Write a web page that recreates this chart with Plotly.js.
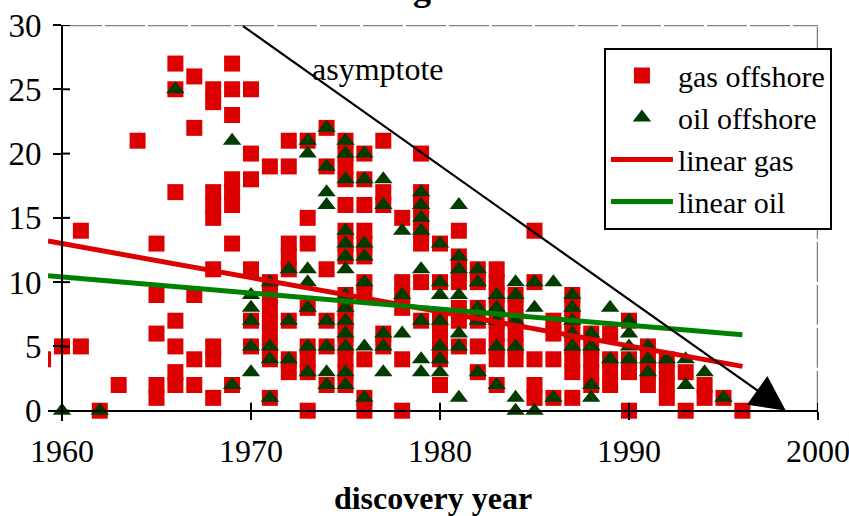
<!DOCTYPE html>
<html><head><meta charset="utf-8">
<script src="https://cdn.plot.ly/plotly-3.0.1.min.js"></script>
<style>html,body{margin:0;padding:0;background:#fff}#chart{width:849px;height:516px}</style>
</head><body><div id="chart"></div>
<script>
// gas offshore fields: discovery year and size class
const gasYear = [
  1959,
  1960,
  1961,1961,
  1962,
  1963,
  1964,
  1965,1965,1965,1965,1965,
  1966,1966,1966,1966,1966,1966,1966,
  1967,1967,1967,1967,1967,
  1968,1968,1968,1968,1968,1968,1968,1968,1968,
  1969,1969,1969,1969,1969,1969,1969,1969,
  1970,1970,1970,1970,1970,1970,
  1971,1971,1971,1971,1971,1971,1971,1971,1971,
  1972,1972,1972,1972,1972,1972,1972,1972,
  1973,1973,1973,1973,1973,1973,1973,1973,
  1974,1974,1974,1974,1974,1974,
  1975,1975,1975,1975,1975,1975,1975,1975,1975,1975,1975,1975,1975,1975,1975,1975,
  1976,1976,1976,1976,1976,1976,1976,1976,1976,1976,1976,
  1977,1977,1977,1977,1977,
  1978,1978,1978,1978,1978,1978,
  1979,1979,1979,1979,1979,1979,1979,1979,
  1980,1980,1980,1980,1980,1980,1980,
  1981,1981,1981,1981,1981,1981,1981,
  1982,1982,1982,1982,1982,1982,
  1983,1983,1983,1983,1983,1983,1983,1983,1983,
  1984,1984,1984,1984,1984,1984,
  1985,1985,1985,1985,1985,
  1986,1986,1986,1986,
  1987,1987,1987,1987,1987,1987,1987,1987,
  1988,1988,1988,1988,1988,
  1989,1989,1989,1989,
  1990,1990,1990,1990,
  1991,1991,1991,1991,
  1992,1992,1992,1992,
  1993,1993,
  1994,1994,
  1995,
  1996
];
const gasSize = [
  4,
  5,
  14,5,
  0,
  2,
  21,
  13,9,6,2,1,
  27,25,17,7,5,3,2,
  26,22,9,4,2,
  25,24,17,16,15,11,5,4,1,
  27,25,23,18,17,16,13,2,
  25,20,18,11,7,5,
  19,10,9,8,7,6,5,4,1,
  21,19,13,12,11,7,4,3,
  21,15,13,8,5,4,3,0,
  22,19,11,7,5,2,
  21,20,19,18,16,14,13,12,9,8,7,6,5,4,3,2,
  20,18,16,14,13,12,10,9,4,1,0,
  21,17,16,6,5,
  15,10,9,8,4,0,
  20,17,16,15,14,13,10,7,
  13,10,7,6,5,4,2,
  14,12,11,10,8,7,5,
  11,10,8,7,5,3,
  11,10,9,8,7,6,5,4,2,
  9,8,7,6,5,4,
  14,10,4,2,1,
  7,6,4,1,
  9,8,7,6,5,4,3,1,
  6,5,4,3,2,
  6,4,3,2,
  7,4,3,0,
  5,4,3,2,
  4,3,2,1,
  3,0,
  2,1,
  1,
  0
];
// oil offshore fields
const oilYear = [
  1960,
  1962,
  1966,
  1969,1969,
  1970,1970,1970,1970,1970,
  1971,1971,1971,1971,
  1972,1972,1972,
  1973,1973,1973,1973,1973,1973,1973,
  1974,1974,1974,1974,1974,1974,1974,1974,
  1975,1975,1975,1975,1975,1975,1975,1975,1975,1975,1975,1975,1975,1975,
  1976,1976,1976,1976,1976,1976,1976,
  1977,1977,1977,1977,1977,
  1978,1978,1978,
  1979,1979,1979,1979,1979,1979,1979,1979,
  1980,1980,1980,1980,1980,1980,1980,
  1981,1981,1981,1981,1981,1981,1981,
  1982,1982,1982,1982,1982,
  1983,1983,1983,1983,1983,
  1984,1984,1984,1984,1984,1984,
  1985,1985,1985,
  1986,1986,
  1987,1987,1987,1987,1987,
  1988,1988,1988,1988,
  1989,1989,
  1990,1990,1990,1990,
  1991,1991,1991,
  1992,
  1993,1993,
  1994,
  1995
];
const oilSize = [
  0,
  0,
  25,
  21,2,
  9,8,7,5,3,
  10,5,4,1,
  11,7,4,
  21,20,11,10,8,5,3,
  22,19,17,16,7,5,3,2,
  21,20,18,14,13,12,11,9,8,7,6,5,3,2,
  20,18,13,12,10,5,1,
  18,16,6,5,3,
  14,9,6,
  17,16,15,14,11,7,4,3,
  13,10,9,7,5,4,3,
  16,12,11,9,6,5,1,
  11,10,8,7,3,
  9,8,7,5,2,
  10,9,7,5,1,0,
  10,8,0,
  10,1,
  9,8,7,6,5,
  6,5,2,1,
  8,4,
  7,6,5,4,
  5,4,3,
  4,
  4,2,
  3,
  1
];
// linear trend lines (end points as drawn)
const trendYears = [1959.26, 1996];
const gasTrend = [13.2, 3.45];
const oilTrend = [10.5, 5.9];
// asymptote (start, arrow tip)
const asymX = [1969.5, 1998.3];
const asymY = [30, 0];
const xTicks = [1960, 1970, 1980, 1990, 2000];
const yTicks = [0, 5, 10, 15, 20, 25, 30];

const FONT = 'Liberation Serif, Times New Roman, serif';
const RED = '#dd0000', DKGREEN = '#003c00', GREEN = '#008000';

const traces = [
  {x: gasYear, y: gasSize, name: 'gas offshore', type: 'scatter', mode: 'markers',
   marker: {symbol: 'square', size: 16, color: RED}, cliponaxis: true},
  {x: oilYear, y: oilSize, name: 'oil offshore', type: 'scatter', mode: 'markers',
   marker: {symbol: 'triangle-up', size: 16, color: DKGREEN}, cliponaxis: true},
  {x: trendYears, y: gasTrend, name: 'linear gas', type: 'scatter', mode: 'lines',
   line: {color: RED, width: 5}},
  {x: trendYears, y: oilTrend, name: 'linear oil', type: 'scatter', mode: 'lines',
   line: {color: GREEN, width: 5}}
];

const yMin = -0.8, yMax = 30, xMin = 1959.26, xMax = 2000;

const shapes = [];
// plot-area border (gray dashed, top and right)
shapes.push({type: 'line', xref: 'x', yref: 'y', x0: xTicks[0], x1: xMax, y0: yMax, y1: yMax,
  line: {color: '#808080', width: 2.5, dash: '40px,3px'}, layer: 'below'});
shapes.push({type: 'line', xref: 'x', yref: 'y', x0: xMax, x1: xMax, y0: 0, y1: yMax,
  line: {color: '#808080', width: 2.5, dash: '40px,3px'}, layer: 'below'});
// inner halves of crossing ticks
xTicks.forEach(t => shapes.push({type: 'line', xref: 'x', yref: 'y', ysizemode: 'pixel', yanchor: 0,
  x0: t, x1: t, y0: 0, y1: 8, line: {color: '#000', width: 2}}));
yTicks.forEach(t => shapes.push({type: 'line', xref: 'x', yref: 'y', xsizemode: 'pixel', xanchor: xTicks[0],
  x0: 0, x1: 8, y0: t, y1: t, line: {color: '#000', width: 2}}));

const layout = {
  width: 849, height: 516,
  margin: {l: 48, r: 31, t: 25, b: 95},
  paper_bgcolor: '#fff', plot_bgcolor: '#fff',
  font: {family: FONT, size: 31, color: '#000'},
  showlegend: true,
  legend: {x: 0.722, y: 0.943, xanchor: 'left', yanchor: 'top',
    bgcolor: '#fff', bordercolor: '#000', borderwidth: 2,
    font: {family: FONT, size: 30, color: '#000'}, itemwidth: 62},
  xaxis: {range: [xMin, xMax], anchor: 'free', position: (0 - yMin) / (yMax - yMin),
    tickvals: xTicks, ticktext: xTicks.map(String), ticks: 'outside', ticklen: 8, tickwidth: 2, tickcolor: '#000',
    showline: true, linecolor: '#000', linewidth: 2.5, showgrid: false, zeroline: false,
    tickfont: {family: FONT, size: 32}, ticklabelstandoff: 3, ticklabeloverflow: 'allow',
    title: {text: 'discovery year', font: {family: FONT, size: 32, weight: 'bold'}, standoff: 20},
    automargin: false},
  yaxis: {range: [yMin, yMax], anchor: 'free', position: (xTicks[0] - xMin) / (xMax - xMin),
    tickvals: yTicks, ticktext: yTicks.map(String), ticks: 'outside', ticklen: 8, tickwidth: 2, tickcolor: '#000',
    showline: true, linecolor: '#000', linewidth: 2.5, showgrid: false, zeroline: false,
    tickfont: {family: FONT, size: 33}, ticklabelstandoff: 5, ticklabeloverflow: 'allow', automargin: false},
  shapes: shapes,
  annotations: [
    {x: asymX[1], y: asymY[1], ax: asymX[0], ay: asymY[0], xref: 'x', yref: 'y', axref: 'x', ayref: 'y',
     text: '', showarrow: true, arrowhead: 2, arrowsize: 3.2, arrowwidth: 2.2, arrowcolor: '#000', standoff: 0},
    {x: 1976.7, y: 26.6, xref: 'x', yref: 'y', text: 'asymptote', showarrow: false,
     font: {family: FONT, size: 32, color: '#000'}},
    {x: (422 - 48) / 770, y: 1.0386, xref: 'paper', yref: 'paper', xanchor: 'center', yanchor: 'bottom',
     text: 'g', showarrow: false, font: {family: FONT, size: 36, weight: 'bold', color: '#000'}}
  ]
};

Plotly.newPlot('chart', traces, layout, {displayModeBar: false, staticPlot: true});
</script>
</body></html>
